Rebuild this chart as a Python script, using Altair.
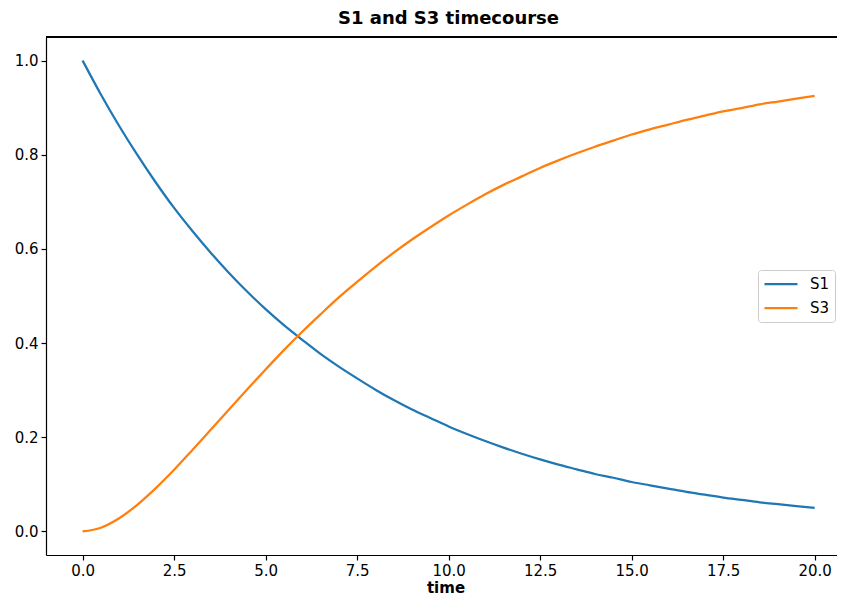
import altair as alt
import pandas as pd

time = [0.0, 0.5, 1.0, 1.5, 2.0, 2.5, 3.0, 3.5, 4.0, 4.5, 5.0, 5.5, 6.0, 6.5, 7.0, 7.5,
        8.0, 8.5, 9.0, 9.5, 10.0, 10.5, 11.0, 11.5, 12.0, 12.5, 13.0, 13.5, 14.0, 14.5,
        15.0, 15.5, 16.0, 16.5, 17.0, 17.5, 18.0, 18.5, 19.0, 19.5, 20.0]
s1 = [1.000, 0.928, 0.861, 0.799, 0.741, 0.687, 0.638, 0.592, 0.549, 0.509, 0.472,
      0.438, 0.407, 0.377, 0.350, 0.325, 0.301, 0.279, 0.259, 0.241, 0.223, 0.207,
      0.192, 0.178, 0.165, 0.153, 0.142, 0.132, 0.122, 0.114, 0.105, 0.098, 0.091,
      0.084, 0.078, 0.072, 0.067, 0.062, 0.058, 0.054, 0.050]
s3 = [0.000, 0.008, 0.028, 0.057, 0.092, 0.131, 0.173, 0.216, 0.259, 0.302, 0.344,
      0.385, 0.424, 0.461, 0.497, 0.530, 0.562, 0.592, 0.620, 0.646, 0.671, 0.694,
      0.716, 0.736, 0.754, 0.772, 0.788, 0.803, 0.817, 0.830, 0.843, 0.854, 0.864,
      0.874, 0.883, 0.892, 0.899, 0.907, 0.913, 0.919, 0.925]
series_names = ["S1", "S3"]
series_colors = ["#1f77b4", "#ff7f0e"]
x_ticks = [0.0, 2.5, 5.0, 7.5, 10.0, 12.5, 15.0, 17.5, 20.0]
y_ticks = [0.0, 0.2, 0.4, 0.6, 0.8, 1.0]

rows = []
for name, vals in zip(series_names, [s1, s3]):
    for t, v in zip(time, vals):
        rows.append({"time": t, "value": v, "species": name})
df = pd.DataFrame(rows)

FONT = "DejaVu Sans"

xscale = alt.Scale(domain=[-1, 20.83], zero=False, nice=False)
yscale = alt.Scale(domain=[-0.05, 1.05], zero=False, nice=False)

lines = alt.Chart(df).mark_line(strokeWidth=2.25, interpolate="monotone").encode(
    x=alt.X("time:Q", scale=xscale,
            axis=alt.Axis(values=x_ticks, format=".1f", title="time",
                          titleFontWeight="bold", titleFontSize=15, titleFont=FONT,
                          titlePadding=2, titleColor="black")),
    y=alt.Y("value:Q", scale=yscale,
            axis=alt.Axis(values=y_ticks, format=".1f", title=None)),
    color=alt.Color("species:N",
                    scale=alt.Scale(domain=series_names, range=series_colors),
                    legend=alt.Legend(title=None, orient="none", legendX=712, legendY=233,
                                      fillColor="white", strokeColor="#cccccc",
                                      cornerRadius=3, padding=5,
                                      symbolType="stroke", symbolSize=1089,
                                      symbolStrokeWidth=2.25, labelFontSize=15,
                                      labelFont=FONT, labelOffset=11, labelColor="black",
                                      clipHeight=18, rowPadding=6)),
)

top_spine = alt.Chart(df).mark_rule(color="black", strokeWidth=1.2).encode(
    y=alt.datum(1.05)
)

chart = alt.layer(lines, top_spine).properties(
    width=799, height=518,
    title=alt.TitleParams("S1 and S3 timecourse", font=FONT, fontSize=18,
                          fontWeight="bold", color="black", anchor="middle",
                          offset=8, dx=3),
    autosize=alt.AutoSizeParams(type="none"),
    padding={"left": 38, "top": 29, "right": -8, "bottom": 42},
).configure_view(stroke=None).configure_axis(
    grid=False, domainColor="black", domainWidth=1.2, tickColor="black",
    tickWidth=1.2, tickSize=5, labelPadding=3, labelFont=FONT, labelFontSize=15,
    labelColor="black"
)

chart.save("out.html", embed_options={"renderer": "svg", "actions": False})
